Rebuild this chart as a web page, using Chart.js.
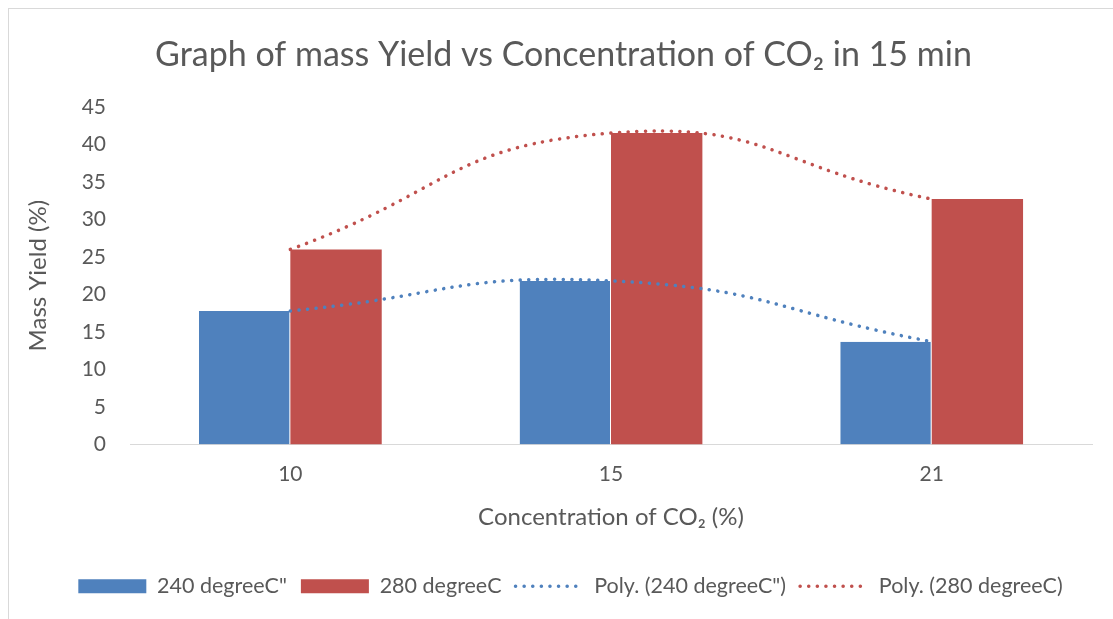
<!DOCTYPE html>
<html>
<head>
<meta charset="utf-8">
<script src="https://cdn.jsdelivr.net/npm/chart.js@4.4.1/dist/chart.umd.min.js"></script>
<style>
  html, body { margin: 0; padding: 0; background: #ffffff; }
  #wrap { position: relative; width: 1113px; height: 619px; overflow: hidden; }
  #frame { position: absolute; left: 8px; top: 8px; width: 1200px; height: 700px; border: 1px solid #d9d9d9; pointer-events: none; }
  canvas { position: absolute; left: 0; top: 0; }
</style>
</head>
<body>
<div id="wrap">
  <canvas id="c" width="1113" height="619"></canvas>
  <div id="frame"></div>
</div>
<script>
const categories = ['10', '15', '21'];
const yield240 = [17.8, 21.8, 13.7];
const yield280 = [26.0, 41.5, 32.7];
const yTicks = [0, 5, 10, 15, 20, 25, 30, 35, 40, 45];
const seriesNames = ['240 degreeC"', '280 degreeC', 'Poly. (240 degreeC")', 'Poly. (280 degreeC)'];

const BLUE = '#4f81bd';
const RED = '#c0504d';
const TEXT = '#595959';
const FONT = 'Lato, Carlito, Calibri, "Open Sans", sans-serif';
const DOTS = [0.1, 8.5];

const blockShift = {
  id: 'blockShift',
  afterLayout(chart) {
    if (chart.legend) { chart.legend.left += 20; chart.legend.right += 20; }
    if (chart.titleBlock) { chart.titleBlock.left += 13; chart.titleBlock.right += 13; }
  }
};

new Chart(document.getElementById('c'), {
  type: 'bar',
  data: {
    labels: categories,
    datasets: [
      { label: seriesNames[0], data: yield240, backgroundColor: BLUE, borderColor: 'rgba(255,255,255,0.6)', borderWidth: {left:0, right:1, top:0, bottom:0}, order: 1,
        categoryPercentage: 0.57, barPercentage: 1.0 },
      { label: seriesNames[1], data: yield280, backgroundColor: RED, borderWidth: 0, order: 1,
        categoryPercentage: 0.57, barPercentage: 1.0 },
      { type: 'line', label: seriesNames[2], data: yield240, borderColor: BLUE, backgroundColor: BLUE, borderWidth: 3.5,
        borderDash: DOTS, borderCapStyle: 'round', tension: 0.5, pointRadius: 0, pointHoverRadius: 0, fill: false, order: 0 },
      { type: 'line', label: seriesNames[3], data: yield280, borderColor: RED, backgroundColor: RED, borderWidth: 3.5,
        borderDash: DOTS, borderCapStyle: 'round', tension: 0.5, pointRadius: 0, pointHoverRadius: 0, fill: false, order: 0 }
    ]
  },
  options: {
    responsive: false,
    animation: false,
    devicePixelRatio: 1,
    layout: { padding: { left: 9, right: 21, top: 9, bottom: 12 } },
    plugins: {
      title: {
        display: true,
        text: 'Graph of mass Yield vs Concentration of CO\u2082 in 15 min',
        color: TEXT,
        font: { family: FONT, size: 34, weight: 'normal' },
        padding: { top: 26, bottom: 31 }
      },
      legend: {
        display: true,
        position: 'bottom',
        labels: {
          color: TEXT,
          font: { family: FONT, size: 21.5 },
          usePointStyle: true,
          pointStyleWidth: 68,
          boxHeight: 14,
          padding: 14,
          sort: (a, b) => a.datasetIndex - b.datasetIndex,
          generateLabels(chart) {
            const items = Chart.defaults.plugins.legend.labels.generateLabels(chart);
            items.forEach(it => {
              const ds = chart.data.datasets[it.datasetIndex];
              if (ds.type === 'line') {
                it.pointStyle = 'line'; it.lineDash = DOTS; it.lineCap = 'round';
                it.lineWidth = 3.5; it.strokeStyle = ds.borderColor; it.fillStyle = ds.borderColor;
              } else {
                it.pointStyle = 'rect'; it.lineWidth = 0; it.lineDash = [];
                it.strokeStyle = ds.backgroundColor; it.fillStyle = ds.backgroundColor;
              }
            });
            return items;
          }
        }
      },
      tooltip: { enabled: false }
    },
    scales: {
      x: {
        offset: true,
        grid: { display: false, drawTicks: false },
        border: { display: true, color: '#d9d9d9', width: 1 },
        ticks: { color: TEXT, font: { family: FONT, size: 21 }, padding: 17 },
        title: { display: true, text: 'Concentration of CO\u2082 (%)', color: TEXT, font: { family: FONT, size: 24 }, padding: { top: 0, bottom: 30 } },
        afterFit(scale) { scale.height = 117; }
      },
      y: {
        min: 0, max: 45,
        afterBuildTicks(scale) { scale.ticks = yTicks.map(v => ({ value: v })); },
        grid: { display: false, drawTicks: false },
        border: { display: false },
        ticks: { color: TEXT, font: { family: FONT, size: 21 }, padding: 24 },
        title: { display: true, text: 'Mass Yield (%)', color: TEXT, font: { family: FONT, size: 24 }, padding: { top: 15, bottom: 0 } },
        afterFit(scale) { scale.width = 121; }
      }
    }
  },
  plugins: [blockShift]
});
</script>
</body>
</html>
